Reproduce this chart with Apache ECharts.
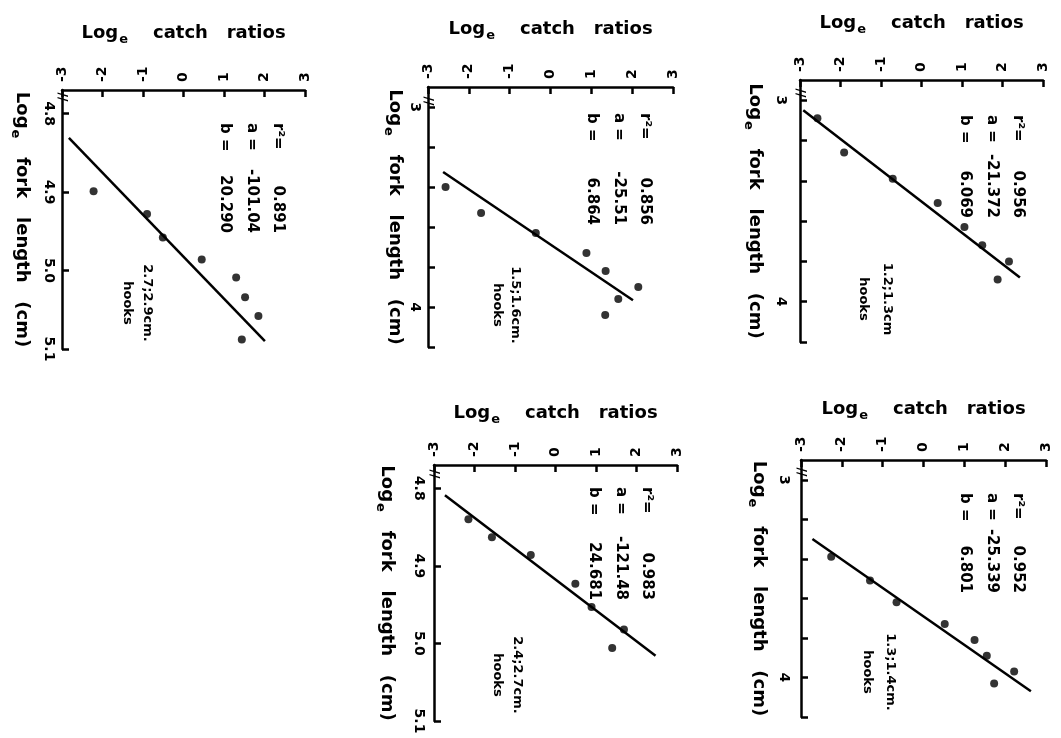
<!DOCTYPE html>
<html>
<head>
<meta charset="utf-8">
<script src="https://cdn.jsdelivr.net/npm/echarts@6/dist/echarts.min.js"></script>
<style>
  html, body { margin: 0; background: #fff; }
  #chart { width: 1061px; height: 738px; }
</style>
</head>
<body>
<div id="chart"></div>
<script>
// --- data (log_e catch ratio vs log_e fork length) ---
const catchTicks = ['-3', '-2', '-1', '0', '1', '2', '3'];
const forkTicksLow = ['3', '4'];
const forkTicksHigh = ['4.8', '4.9', '5.0', '5.1'];
const forkMinorLow = [3, 3.2, 3.4, 3.6, 3.8, 4, 4.2];

const hookSizes = ['1.2;1.3cm', '1.5;1.6cm.', '2.7;2.9cm.', '1.3;1.4cm.', '2.4;2.7cm.'];
const rSquared = ['0.956', '0.856', '0.891', '0.952', '0.983'];
const aValues = ['-21.372', '-25.51', '-101.04', '-25.339', '-121.48'];
const bValues = ['6.069', '6.864', '20.290', '6.801', '24.681'];

const catch1 = [-2.57, -1.91, -0.71, 0.40, 1.06, 1.50, 2.16, 1.88];
const fork1 = [3.09, 3.26, 3.39, 3.51, 3.63, 3.72, 3.80, 3.89];
const catch2 = [-2.57, -1.70, -0.36, 0.88, 1.35, 2.15, 1.66, 1.34];
const fork2 = [3.40, 3.53, 3.63, 3.73, 3.82, 3.90, 3.96, 4.04];
const catch3 = [-2.22, -0.90, -0.51, 0.45, 1.30, 1.52, 1.85, 1.44];
const fork3 = [4.899, 4.928, 4.958, 4.986, 5.009, 5.034, 5.058, 5.088];
const catch4 = [-2.26, -1.31, -0.66, 0.52, 1.25, 1.55, 2.22, 1.73];
const fork4 = [3.39, 3.51, 3.62, 3.73, 3.81, 3.89, 3.97, 4.03];
const catch5 = [-2.15, -1.57, -0.61, 0.49, 0.89, 1.69, 1.40];
const fork5 = [4.840, 4.863, 4.886, 4.923, 4.953, 4.982, 5.006];

// fitted line end points, as drawn
const lineCatch1 = [-2.92, 2.43], lineFork1 = [3.05, 3.88];
const lineCatch2 = [-2.63, 2.02], lineFork2 = [3.325, 3.966];
const lineCatch3 = [-2.83, 2.01], lineFork3 = [4.831, 5.090];
const lineCatch4 = [-2.72, 2.63], lineFork4 = [3.30, 4.07];
const lineCatch5 = [-2.73, 2.47], lineFork5 = [4.809, 5.016];

const catchSets = [catch1, catch2, catch3, catch4, catch5];
const forkSets = [fork1, fork2, fork3, fork4, fork5];
const lineCatch = [lineCatch1, lineCatch2, lineCatch3, lineCatch4, lineCatch5];
const lineFork = [lineFork1, lineFork2, lineFork3, lineFork4, lineFork5];

// --- layout of the five panels ---
const panels = [
  { left: 800, top: 80, width: 243, height: 262, high: false, xGap: 44, yGap: 33, lm: 12,
    stat: [1018, 115, 218], hook: [887, 863, 299], brk: [800, 93] },
  { left: 428, top: 87, width: 245, height: 260, high: false, xGap: 45, yGap: 21, lm: 6,
    stat: [645, 113, 225], hook: [515, 497, 305], brk: [428, 101] },
  { left: 62, top: 90, width: 243, height: 259, high: true, xGap: 44, yGap: 28, lm: 6,
    stat: [278, 123, 233], hook: [147, 127, 303], brk: [62, 97] },
  { left: 801, top: 460, width: 245, height: 257, high: false, xGap: 38, yGap: 30, lm: 10,
    stat: [1018, 493, 593], hook: [890, 867, 672], brk: [801, 472] },
  { left: 434, top: 465, width: 243, height: 256, high: true, xGap: 39, yGap: 35, lm: 8,
    stat: [647, 487, 600], hook: [517, 497, 675], brk: [434, 474] }
];

const FONT = 'DejaVu Sans';
const rich = {
  n: { fontFamily: FONT, fontWeight: 'bold', fontSize: 18, color: '#000' },
  s: { fontFamily: FONT, fontWeight: 'bold', fontSize: 13, color: '#000', padding: [12, 0, 0, 1] }
};
const axisLine = { show: true, onZero: false, lineStyle: { color: '#000', width: 2.5 } };

const chart = echarts.init(document.getElementById('chart'));

const grid = [], xAxis = [], yAxis = [], series = [], graphic = [];

function rotText(x, y, text, align, size) {
  return {
    type: 'text', x: x, y: y, rotation: -Math.PI / 2,
    style: {
      text: text, fill: '#000', textAlign: align, textVerticalAlign: 'middle',
      font: 'bold ' + size + 'px "' + FONT + '"'
    }
  };
}

panels.forEach((p, i) => {
  const labels = p.high ? forkTicksHigh : forkTicksLow;
  grid.push({ left: p.left, top: p.top, width: p.width, height: p.height,
    outerBoundsMode: 'none', containLabel: false });

  xAxis.push({
    gridIndex: i, type: 'value', position: 'top', min: -3, max: 3, interval: 1,
    name: '{n|Log}{s|e}{n|    catch   ratios}', nameLocation: 'middle', nameGap: p.xGap,
    nameMoveOverlap: false, nameTextStyle: { rich: rich },
    axisLine: axisLine,
    axisTick: { inside: true, length: 7, lineStyle: { color: '#000', width: 2.5 } },
    axisLabel: { rotate: -90, margin: 8, color: '#000', fontFamily: FONT, fontWeight: 'bold', fontSize: 14,
      formatter: v => catchTicks[v + 3] },
    splitLine: { show: false }
  });

  yAxis.push({
    gridIndex: i, type: 'value', inverse: true,
    min: p.high ? 4.77 : 2.9, max: p.high ? 5.1 : 4.2,
    name: '{n|Log}{s|e}{n|   fork   length   (cm)}', nameLocation: 'middle', nameRotate: -90,
    nameGap: p.yGap, nameMoveOverlap: false, nameTextStyle: { rich: rich },
    axisLine: axisLine,
    axisTick: { inside: true, length: 7, lineStyle: { color: '#000', width: 2.5 },
      customValues: p.high ? forkTicksHigh.map(Number) : forkMinorLow },
    axisLabel: { rotate: -90, margin: p.lm, color: '#000', fontFamily: FONT, fontWeight: 'bold', fontSize: 14,
      customValues: labels.map(Number),
      formatter: v => labels.find(l => Math.abs(Number(l) - v) < 1e-6) || '' },
    splitLine: { show: false }
  });

  series.push({
    type: 'scatter', xAxisIndex: i, yAxisIndex: i, symbolSize: 8,
    itemStyle: { color: '#000' },
    data: catchSets[i].map((c, k) => [c, forkSets[i][k]])
  });
  series.push({
    type: 'line', xAxisIndex: i, yAxisIndex: i, symbol: 'none',
    lineStyle: { color: '#000', width: 2.5 },
    data: lineCatch[i].map((c, k) => [c, lineFork[i][k]])
  });

  // regression statistics, rotated like the scan
  const keys = ['r\u00b2=', 'a =', 'b ='];
  const vals = [rSquared[i], aValues[i], bValues[i]];
  keys.forEach((k, j) => {
    const x = p.stat[0] - j * 26.5;
    graphic.push(rotText(x, p.stat[1], k, 'left', 15));
    graphic.push(rotText(x, p.stat[2], vals[j], 'right', 15));
  });
  // hook size label
  graphic.push(rotText(p.hook[0], p.hook[2], hookSizes[i], 'center', 13));
  graphic.push(rotText(p.hook[1], p.hook[2], 'hooks', 'center', 13));
  // axis break mark
  graphic.push(rotText(p.brk[0], p.brk[1], '//', 'center', 12));
});

chart.setOption({
  backgroundColor: '#fff',
  animation: false,
  grid: grid,
  xAxis: xAxis,
  yAxis: yAxis,
  series: series,
  graphic: graphic
});
</script>
</body>
</html>
